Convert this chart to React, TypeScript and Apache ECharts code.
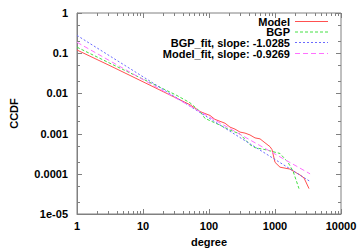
import React, { useEffect, useRef } from "react";
import * as echarts from "echarts";

const xTickValues = [1, 10, 100, 1000, 10000];
const yTickLabels: Record<string, string> = {
  "0": "1",
  "-1": "0.1",
  "-2": "0.01",
  "-3": "0.001",
  "-4": "0.0001",
  "-5": "1e-05",
};

const seriesNames = [
  "Model",
  "BGP",
  "BGP_fit, slope: -1.0285",
  "Model_fit, slope: -0.9269",
];

const modelDegree = [1, 3.16, 10, 31.6, 51.5, 73.1, 86.9, 103.5, 123, 147, 175, 208, 248, 295, 351, 418, 498, 593, 705, 840, 901, 1000, 1191, 1687, 2393, 2750, 3275];
const modelCcdf = [0.12, 0.0489, 0.01945, 0.00773, 0.00523, 0.00354, 0.00316, 0.00283, 0.00226, 0.00202, 0.00181, 0.00145, 0.00129, 0.00109, 0.00103, 0.000925, 0.000782, 0.00074, 0.000591, 0.000473, 0.0004, 0.000193, 0.000146, 0.000131, 0.0000935, 0.0000791, 0.0000428];

const bgpDegree = [1, 3.16, 10, 31.6, 51.5, 73.1, 86.9, 147, 208, 295, 418, 498, 705, 1191, 1574, 1875, 2310];
const bgpCcdf = [0.141, 0.0562, 0.0227, 0.00914, 0.00585, 0.00354, 0.00239, 0.00162, 0.00122, 0.000977, 0.000529, 0.000447, 0.0004, 0.00032, 0.000193, 0.000117, 0.0000428];

const bgpFitDegree = [1, 3400];
const bgpFitCcdf = [0.277, 0.0000646];

const modelFitDegree = [1, 3400];
const modelFitCcdf = [0.187, 0.0000998];

const colors = ["#ff5050", "#44e044", "#6a6aff", "#ff70ff"];
const dashes: (number[] | "solid")[] = ["solid", [3, 2], [2, 2], [5, 3]];

const FONT = '"Liberation Sans", Arial, sans-serif';

function zip(a: number[], b: number[]) {
  return a.map((v, i) => [v, b[i]]);
}

export default function App() {
  const ref = useRef<HTMLDivElement>(null);
  useEffect(() => {
    if (!ref.current) return;
    const chart = echarts.init(ref.current, null, { renderer: "svg" });
    const datasets = [
      zip(modelDegree, modelCcdf),
      zip(bgpDegree, bgpCcdf),
      zip(bgpFitDegree, bgpFitCcdf),
      zip(modelFitDegree, modelFitCcdf),
    ];
    chart.setOption({
      animation: false,
      backgroundColor: "#fff",
      grid: {
        left: 77,
        right: 19,
        top: 13,
        bottom: 33,
        show: true,
        borderColor: "#808080",
        borderWidth: 1,
      },
      xAxis: {
        type: "log",
        min: 1,
        max: 10000,
        logBase: 10,
        name: "degree",
        nameLocation: "middle",
        nameGap: 22,
        nameTextStyle: { fontFamily: FONT, fontWeight: "bold", fontSize: 11, color: "#000" },
        axisLine: { show: true, lineStyle: { color: "#808080", width: 1 } },
        axisTick: { show: false },
        splitLine: { show: false },
        axisLabel: {
          margin: 6,
          fontFamily: FONT,
          fontWeight: "bold",
          fontSize: 11,
          color: "#000",
          formatter: (v: number) => {
            const e = Math.round(Math.log10(v));
            return String(xTickValues[e] ?? v);
          },
        },
      },
      yAxis: {
        type: "log",
        min: 0.00001,
        max: 1,
        logBase: 10,
        name: "CCDF",
        nameLocation: "middle",
        nameGap: 58,
        nameTextStyle: { fontFamily: FONT, fontWeight: "bold", fontSize: 11, color: "#000" },
        axisLine: { show: true, lineStyle: { color: "#808080", width: 1 } },
        axisTick: { show: false },
        splitLine: { show: false },
        axisLabel: {
          margin: 9,
          fontFamily: FONT,
          fontWeight: "bold",
          fontSize: 11,
          color: "#000",
          formatter: (v: number) => {
            const e = String(Math.round(Math.log10(v)));
            return yTickLabels[e] ?? String(v);
          },
        },
      },
      series: datasets.map((d, i) => ({
        name: seriesNames[i],
        type: "line",
        data: d,
        showSymbol: false,
        symbol: "none",
        lineStyle: { color: colors[i], width: 1, type: dashes[i] },
        z: 2 + i,
      })),
    });

    const px = (v: number) => chart.convertToPixel({ xAxisIndex: 0 }, v) as number;
    const py = (v: number) => chart.convertToPixel({ yAxisIndex: 0 }, v) as number;
    const left = px(1);
    const right = px(10000);
    const top = py(1);
    const bottom = py(0.00001);
    const tickStyle = { stroke: "#808080", lineWidth: 1 };
    const graphics: any[] = [];
    const addLine = (x1: number, y1: number, x2: number, y2: number) =>
      graphics.push({ type: "line", shape: { x1, y1, x2, y2 }, style: tickStyle, silent: true, z: 10 });

    for (let e = 0; e <= 4; e++) {
      const base = Math.pow(10, e);
      const x = Math.round(px(base)) + 0.5;
      addLine(x, bottom, x, bottom - 5);
      addLine(x, top, x, top + 5);
      if (e < 4) {
        for (let m = 2; m <= 9; m++) {
          const xm = Math.round(px(base * m)) + 0.5;
          addLine(xm, bottom, xm, bottom - 3);
          addLine(xm, top, xm, top + 3);
        }
      }
    }
    for (let e = -5; e <= 0; e++) {
      const base = Math.pow(10, e);
      const y = Math.round(py(base)) + 0.5;
      addLine(left, y, left + 5, y);
      addLine(right, y, right - 5, y);
      if (e < 0) {
        for (const m of [2, 5]) {
          const ym = Math.round(py(base * m)) + 0.5;
          addLine(left, ym, left + 3, ym);
          addLine(right, ym, right - 3, ym);
        }
      }
    }

    const legendY = [21.5, 32, 42.5, 53.5];
    seriesNames.forEach((name, i) => {
      graphics.push({
        type: "text",
        silent: true,
        z: 20,
        style: {
          text: name,
          x: 290,
          y: legendY[i],
          textAlign: "right",
          textVerticalAlign: "middle",
          font: `bold 11px ${FONT}`,
          fill: "#000",
        },
      });
      graphics.push({
        type: "line",
        silent: true,
        z: 20,
        shape: { x1: 295, y1: legendY[i], x2: 328, y2: legendY[i] },
        style: {
          stroke: colors[i],
          lineWidth: 1,
          lineDash: dashes[i] === "solid" ? null : dashes[i],
        },
      });
    });

    chart.setOption({ graphic: graphics });
    return () => chart.dispose();
  }, []);
  return (
    <div
      ref={ref}
      style={{ position: "fixed", left: 0, top: 0, width: 360, height: 252 }}
    />
  );
}
